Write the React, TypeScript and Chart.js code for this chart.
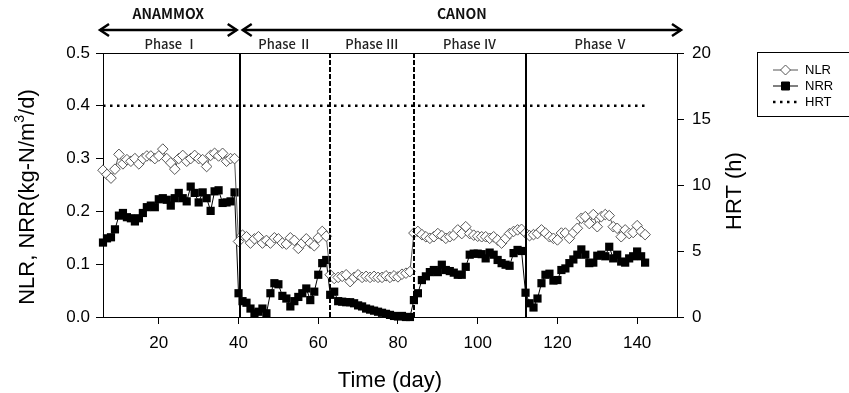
import React, { useEffect, useRef } from "react";
import { Chart, registerables } from "chart.js";

Chart.register(...registerables);

// ---- data ----
const days = [
  6, 7, 8, 9, 10, 11, 12, 13, 14, 15, 16, 17, 18, 19, 20, 21, 22, 23, 24, 25,
  26, 27, 28, 29, 30, 31, 32, 33, 34, 35, 36, 37, 38, 39,
  40, 41, 42, 43, 44, 45, 46, 47, 48, 49, 50, 51, 52, 53, 54, 55, 56, 57, 58, 59, 60, 61, 62,
  63, 64, 65, 66, 67, 68, 69, 70, 71, 72, 73, 74, 75, 76, 77, 78, 79, 80, 81, 82, 83,
  84, 85, 86, 87, 88, 89, 90, 91, 92, 93, 94, 95, 96, 97, 98, 99, 100, 101, 102, 103,
  104, 105, 106, 107, 108, 109, 110, 111,
  112, 113, 114, 115, 116, 117, 118, 119, 120, 121, 122, 123, 124, 125, 126, 127, 128,
  129, 130, 131, 132, 133, 134, 135, 136, 137, 138, 139, 140, 141, 142,
];

const nlr = [
  // Phase I
  0.278, 0.27, 0.263, 0.28, 0.308, 0.29, 0.298, 0.295, 0.3, 0.29,
  0.3, 0.305, 0.305, 0.3, 0.305, 0.318, 0.3, 0.292, 0.28, 0.3,
  0.306, 0.295, 0.3, 0.306, 0.3, 0.298, 0.285, 0.306, 0.31, 0.305,
  0.31, 0.295, 0.3, 0.3,
  // Phase II
  0.143, 0.155, 0.152, 0.14, 0.148, 0.152, 0.14, 0.145, 0.14, 0.15,
  0.148, 0.14, 0.138, 0.15, 0.145, 0.13, 0.14, 0.148, 0.14, 0.135,
  0.15, 0.162, 0.153,
  // Phase III
  0.08, 0.073, 0.075, 0.077, 0.08, 0.067, 0.075, 0.08, 0.075, 0.077,
  0.075, 0.077, 0.075, 0.075, 0.078, 0.075, 0.078, 0.076, 0.081, 0.083,
  0.086,
  // Phase IV
  0.159, 0.162, 0.156, 0.152, 0.149, 0.152, 0.158, 0.154, 0.149, 0.152,
  0.155, 0.165, 0.158, 0.171, 0.158, 0.155, 0.153, 0.152, 0.152, 0.149,
  0.152, 0.146, 0.14, 0.149, 0.158, 0.162, 0.165, 0.166,
  // Phase V
  0.159, 0.154, 0.156, 0.158, 0.165, 0.159, 0.152, 0.149, 0.146, 0.159,
  0.159, 0.149, 0.16, 0.168, 0.187, 0.19, 0.177, 0.194, 0.171, 0.19,
  0.194, 0.192, 0.171, 0.168, 0.152, 0.165, 0.158, 0.16, 0.173, 0.162,
  0.156,
];

const nrr = [
  // Phase I
  0.141, 0.149, 0.151, 0.166, 0.192, 0.197, 0.189, 0.187, 0.181, 0.187,
  0.197, 0.208, 0.211, 0.208, 0.223, 0.225, 0.222, 0.211, 0.225, 0.235,
  0.225, 0.219, 0.247, 0.235, 0.217, 0.236, 0.225, 0.201, 0.238, 0.24,
  0.216, 0.217, 0.219, 0.236,
  // Phase II
  0.045, 0.03, 0.027, 0.016, 0.007, 0.01, 0.016, 0.007, 0.045, 0.064,
  0.062, 0.04, 0.035, 0.02, 0.03, 0.038, 0.045, 0.054, 0.032, 0.048,
  0.08, 0.102, 0.108,
  // Phase III
  0.042, 0.048, 0.03, 0.029, 0.028, 0.028, 0.026, 0.022, 0.02, 0.016,
  0.014, 0.012, 0.01, 0.008, 0.006, 0.004, 0.002, 0.001, 0.002, 0.0,
  0.0,
  // Phase IV
  0.032, 0.045, 0.07, 0.077, 0.085, 0.089, 0.085, 0.099, 0.089, 0.087,
  0.084, 0.08, 0.08, 0.095, 0.118, 0.12, 0.12, 0.119, 0.111, 0.122,
  0.118, 0.108, 0.102, 0.099, 0.097, 0.121, 0.127, 0.125,
  // Phase V
  0.046, 0.026, 0.018, 0.035, 0.064, 0.08, 0.082, 0.069, 0.07, 0.089,
  0.092, 0.102, 0.109, 0.118, 0.128, 0.118, 0.102, 0.103, 0.116, 0.118,
  0.115, 0.133, 0.111, 0.118, 0.105, 0.103, 0.111, 0.115, 0.124, 0.115,
  0.103,
];

const hrtDays = [6, 142];
const hrtValues = [16, 16];

const xTicks = [20, 40, 60, 80, 100, 120, 140];
const leftTicks = [0, 0.1, 0.2, 0.3, 0.4, 0.5];
const rightTicks = [0, 5, 10, 15, 20];

const phaseBounds = [40.3, 63, 84, 112];
const phaseDashed = [false, true, true, false];
const phaseNames = ["Phase Ⅰ", "Phase Ⅱ", "Phase Ⅲ", "Phase Ⅳ", "Phase Ⅴ"];
const stageNames = ["ANAMMOX", "CANON"];

const seriesNames = ["NLR", "NRR", "HRT"];

const SANS = '"Liberation Sans", Arial, sans-serif';
const CJK = '"Noto Sans CJK KR", "Noto Sans", sans-serif';

function drawArrow(ctx: CanvasRenderingContext2D, x1: number, x2: number, y: number) {
  ctx.save();
  ctx.strokeStyle = "#000";
  ctx.lineWidth = 2.5;
  ctx.setLineDash([]);
  ctx.lineJoin = "miter";
  ctx.beginPath();
  ctx.moveTo(x1 + 1, y);
  ctx.lineTo(x2 - 1, y);
  ctx.stroke();
  ctx.beginPath();
  ctx.moveTo(x1 + 10, y - 6);
  ctx.lineTo(x1 + 1, y);
  ctx.lineTo(x1 + 10, y + 6);
  ctx.stroke();
  ctx.beginPath();
  ctx.moveTo(x2 - 10, y - 6);
  ctx.lineTo(x2 - 1, y);
  ctx.lineTo(x2 - 10, y + 6);
  ctx.stroke();
  ctx.restore();
}

const decor = {
  id: "decor",
  afterDatasetsDraw(chart: any) {
    const { ctx, chartArea: a, scales } = chart;
    const xs = scales.x;
    ctx.save();
    // top frame line
    ctx.strokeStyle = "#000";
    ctx.lineWidth = 1;
    ctx.beginPath();
    ctx.moveTo(a.left, a.top + 0.5);
    ctx.lineTo(a.right, a.top + 0.5);
    ctx.stroke();
    // phase boundary lines
    phaseBounds.forEach((d, i) => {
      const px = Math.round(xs.getPixelForValue(d));
      ctx.lineWidth = 2;
      ctx.setLineDash(phaseDashed[i] ? [5, 2] : []);
      ctx.beginPath();
      ctx.moveTo(px, a.top);
      ctx.lineTo(px, a.bottom);
      ctx.stroke();
    });
    ctx.setLineDash([]);
    ctx.restore();
  },
  afterDraw(chart: any) {
    const { ctx, chartArea: a, scales } = chart;
    const xs = scales.x;
    ctx.save();
    const b0 = xs.getPixelForValue(phaseBounds[0]);
    // stage arrows
    const arrows = [
      [a.left - 4, b0 - 2],
      [b0 + 2, a.right + 5],
    ];
    ctx.fillStyle = "#111";
    ctx.textAlign = "center";
    ctx.textBaseline = "middle";
    ctx.font = `bold 14px ${CJK}`;
    arrows.forEach(([l, r], i) => {
      drawArrow(ctx, l, r, 30);
      ctx.fillText(stageNames[i], (l + r) / 2, 14);
    });
    // phase labels
    const edges = [a.left, ...phaseBounds.map((d) => xs.getPixelForValue(d)), a.right];
    ctx.font = `500 13px ${CJK}`;
    ctx.fillStyle = "#222";
    phaseNames.forEach((n, i) => {
      ctx.fillText(n, (edges[i] + edges[i + 1]) / 2, 44);
    });

    // axis titles
    ctx.fillStyle = "#000";
    ctx.font = `22px ${SANS}`;
    ctx.textAlign = "center";
    ctx.textBaseline = "middle";
    ctx.fillText("Time (day)", (a.left + a.right) / 2, 381);

    // right title
    ctx.save();
    ctx.translate(735, 191);
    ctx.rotate(-Math.PI / 2);
    ctx.fillText("HRT (h)", 0, 0);
    ctx.restore();

    // left title with superscript
    ctx.save();
    ctx.translate(28, 197);
    ctx.rotate(-Math.PI / 2);
    const p1 = "NLR, NRR(kg-N/m";
    const p2 = "3";
    const p3 = "/d)";
    ctx.font = `22px ${SANS}`;
    const w1 = ctx.measureText(p1).width;
    const w3 = ctx.measureText(p3).width;
    ctx.font = `14px ${SANS}`;
    const w2 = ctx.measureText(p2).width;
    const total = w1 + w2 + w3;
    let sx = -total / 2;
    ctx.textAlign = "left";
    ctx.font = `22px ${SANS}`;
    ctx.fillText(p1, sx, 0);
    sx += w1;
    ctx.font = `14px ${SANS}`;
    ctx.fillText(p2, sx, -8);
    sx += w2;
    ctx.font = `22px ${SANS}`;
    ctx.fillText(p3, sx, 0);
    ctx.restore();

    // legend
    const lx = 757.5;
    const ly = 52.5;
    ctx.strokeStyle = "#000";
    ctx.lineWidth = 1;
    ctx.strokeRect(lx, ly, 110, 64);
    const rows = [70, 86, 102];
    const ds = chart.data.datasets;
    rows.forEach((ry, i) => {
      const d = ds[i];
      ctx.save();
      ctx.strokeStyle = d.borderColor;
      ctx.lineWidth = i === 2 ? 2.5 : 1;
      ctx.setLineDash(i === 2 ? d.borderDash : []);
      ctx.beginPath();
      ctx.moveTo(773, ry);
      ctx.lineTo(798, ry);
      ctx.stroke();
      ctx.restore();
      if (i < 2) {
        ctx.save();
        ctx.fillStyle = d.pointBackgroundColor;
        ctx.strokeStyle = d.pointBorderColor;
        ctx.lineWidth = 1;
        ctx.beginPath();
        if (i === 0) {
          ctx.moveTo(785.5 - 5, ry);
          ctx.lineTo(785.5, ry - 5);
          ctx.lineTo(785.5 + 5, ry);
          ctx.lineTo(785.5, ry + 5);
          ctx.closePath();
        } else {
          ctx.rect(785.5 - 4, ry - 4, 8, 8);
        }
        ctx.fill();
        ctx.stroke();
        ctx.restore();
      }
      ctx.fillStyle = "#000";
      ctx.font = `13px ${SANS}`;
      ctx.textAlign = "left";
      ctx.textBaseline = "middle";
      ctx.fillText(seriesNames[i], 805, ry + 0.5);
    });
    ctx.restore();
  },
};

export default function App() {
  const ref = useRef<HTMLCanvasElement | null>(null);

  useEffect(() => {
    document.body.style.margin = "0";
    const canvas = ref.current;
    if (!canvas) return;
    const tickFont = { family: SANS, size: 17 };
    const chart = new Chart(canvas, {
      type: "line",
      data: {
        datasets: [
          {
            label: seriesNames[0],
            data: days.map((d, i) => ({ x: d, y: nlr[i] })),
            yAxisID: "y",
            borderColor: "#555",
            borderWidth: 1,
            pointStyle: "rectRot",
            pointRadius: 5.3,
            pointBackgroundColor: "#fff",
            pointBorderColor: "#555",
            pointBorderWidth: 1,
            tension: 0,
            clip: false,
          },
          {
            label: seriesNames[1],
            data: days.map((d, i) => ({ x: d, y: nrr[i] })),
            yAxisID: "y",
            borderColor: "#000",
            borderWidth: 1,
            pointStyle: "rect",
            pointRadius: 5.8,
            pointBackgroundColor: "#000",
            pointBorderColor: "#000",
            pointBorderWidth: 0,
            tension: 0,
            clip: false,
          },
          {
            label: seriesNames[2],
            data: hrtDays.map((d, i) => ({ x: d, y: hrtValues[i] })),
            yAxisID: "y1",
            borderColor: "#000",
            borderWidth: 2.5,
            borderDash: [2.5, 4.5],
            borderCapStyle: "butt",
            pointRadius: 0,
            tension: 0,
          },
        ],
      } as any,
      options: {
        animation: false,
        responsive: false,
        events: [],
        layout: { padding: { top: 53, left: 0, right: 0, bottom: 0 } },
        plugins: { legend: { display: false }, tooltip: { enabled: false } },
        scales: {
          x: {
            type: "linear",
            min: 6,
            max: 150,
            afterBuildTicks: (s: any) => {
              s.ticks = xTicks.map((v) => ({ value: v }));
            },
            afterFit: (s: any) => {
              s.height = 76;
            },
            grid: { drawOnChartArea: false, tickLength: 7, color: "#000" },
            border: { color: "#000", width: 1 },
            ticks: { font: tickFont, color: "#000", padding: 9, maxRotation: 0, autoSkip: false },
          },
          y: {
            type: "linear",
            position: "left",
            min: 0,
            max: 0.5,
            afterBuildTicks: (s: any) => {
              s.ticks = leftTicks.map((v) => ({ value: v }));
            },
            afterFit: (s: any) => {
              s.width = 103;
            },
            grid: { drawOnChartArea: false, tickLength: 7, color: "#000" },
            border: { color: "#000", width: 1 },
            ticks: {
              font: tickFont,
              color: "#000",
              padding: 6,
              callback: (v: any) => Number(v).toFixed(1),
            },
          },
          y1: {
            type: "linear",
            position: "right",
            min: 0,
            max: 20,
            afterBuildTicks: (s: any) => {
              s.ticks = rightTicks.map((v) => ({ value: v }));
            },
            afterFit: (s: any) => {
              s.width = 172;
            },
            grid: { drawOnChartArea: false, tickLength: 7, color: "#000" },
            border: { color: "#000", width: 1 },
            ticks: { font: tickFont, color: "#000", padding: 8 },
          },
        },
      } as any,
      plugins: [decor],
    });
    return () => chart.destroy();
  }, []);

  return (
    <div style={{ width: 849, height: 393, background: "#fff" }}>
      <canvas ref={ref} width={849} height={393} style={{ display: "block" }} />
    </div>
  );
}
